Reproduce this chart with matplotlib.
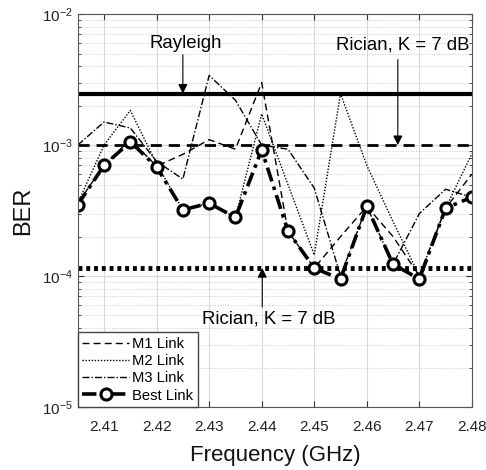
import numpy as np
import matplotlib.pyplot as plt
import matplotlib.ticker as tck

plt.rcParams['font.family'] = ['Liberation Sans', 'DejaVu Sans']

## Data
freq = [2.405, 2.41, 2.415, 2.42, 2.425, 2.43, 2.435, 2.44,
        2.445, 2.45, 2.455, 2.46, 2.465, 2.47, 2.475, 2.48]
ber_m1 = [3.6e-4, 7.0e-4, 1.1e-3, 6.9e-4, 8.5e-4, 1.1e-3, 9.3e-4, 3.0e-3,
          2.2e-4, 1.15e-4, 2.0e-4, 3.4e-4, 2.0e-4, 1.0e-4, 3.3e-4, 6.0e-4]
ber_m2 = [3.6e-4, 1.0e-3, 1.84e-3, 7.2e-4, 3.2e-4, 3.6e-4, 2.8e-4, 1.73e-3,
          5.0e-4, 1.45e-4, 2.47e-3, 7.0e-4, 2.6e-4, 1.0e-4, 3.3e-4, 8.6e-4]
ber_m3 = [1.0e-3, 1.5e-3, 1.35e-3, 7.5e-4, 5.5e-4, 3.4e-3, 2.2e-3, 1.0e-3,
          9.3e-4, 4.7e-4, 1.0e-4, 3.4e-4, 1.23e-4, 3.0e-4, 4.6e-4, 4.0e-4]
ber_best = [3.5e-4, 7.0e-4, 1.06e-3, 6.8e-4, 3.2e-4, 3.6e-4, 2.8e-4, 9.2e-4,
            2.2e-4, 1.15e-4, 0.95e-4, 3.4e-4, 1.23e-4, 0.95e-4, 3.3e-4, 4.0e-4]
ber_rayleigh = 2.47e-3
ber_rician_upper = 1.0e-3
ber_rician_lower = 1.15e-4

xticks = [2.41, 2.42, 2.43, 2.44, 2.45, 2.46, 2.47, 2.48]

fig = plt.figure(figsize=(4.86, 4.70), dpi=100)
ax = fig.add_axes([0.160, 0.134, 0.811, 0.836])

# reference levels
ax.axhline(ber_rayleigh, color='black', lw=3.0, ls='-')
ax.axhline(ber_rician_upper, color='black', lw=2.0, ls=(0, (4, 2.5)))
ax.axhline(ber_rician_lower, color='black', lw=3.5, ls=(0, (0.8, 0.8)))

# measured links
ax.plot(freq, ber_m1, color='black', lw=1.0, ls=(0, (5, 3)), label='M1 Link')
ax.plot(freq, ber_m2, color='black', lw=1.0, ls=(0, (1, 1.2)), label='M2 Link')
ax.plot(freq, ber_m3, color='black', lw=1.0, ls=(0, (5, 1.5, 1, 1.5)), label='M3 Link')
ax.plot(freq, ber_best, color='black', lw=2.6, ls=(0, (4, 1.5, 1, 1.5)),
        marker='o', ms=8, mfc='white', mec='black', mew=2.2, label='Best Link')

ax.set_yscale('log')
ax.set_ylim(1e-5, 1e-2)
ax.set_xlim(2.405, 2.48)
ax.set_xticks(xticks)
ax.set_xticklabels(['%.2f' % x for x in xticks])
ax.yaxis.set_major_locator(tck.LogLocator(base=10, numticks=10))
ax.yaxis.set_minor_locator(tck.LogLocator(base=10, subs=np.arange(2, 10), numticks=10))
ax.yaxis.set_minor_formatter(tck.NullFormatter())

ax.grid(True, which='major', color='#d8d8d8', lw=0.8, ls='-')
ax.grid(True, which='minor', axis='y', color='#c8c8c8', lw=0.7, ls=':')
ax.set_axisbelow(True)

ax.tick_params(which='both', direction='in', top=True, right=True,
               colors='#333333', labelcolor='#222222', labelsize=11)
ax.tick_params(which='major', length=4)
ax.tick_params(which='minor', length=2.5)
ax.tick_params(axis='x', pad=9)
for s in ax.spines.values():
    s.set_color('#555555')
    s.set_linewidth(0.8)

ax.set_xlabel('Frequency (GHz)', fontsize=16, color='#111111', labelpad=8)
ax.set_ylabel('BER', fontsize=17, color='#111111', labelpad=6)

## Annotations
arrow = dict(arrowstyle='-|>', color='black', lw=0.8, mutation_scale=14,
             shrinkA=0, shrinkB=0)
ax.text(2.4255, 6.0e-3, 'Rayleigh', ha='center', va='center', fontsize=13.4)
ax.annotate('', xy=(2.425, ber_rayleigh), xytext=(2.425, 4.9e-3), arrowprops=arrow)

ax.text(2.4795, 5.8e-3, 'Rician, K = 7 dB', ha='right', va='center', fontsize=13.4)
ax.annotate('', xy=(2.4659, ber_rician_upper), xytext=(2.4659, 4.5e-3), arrowprops=arrow)

ax.text(2.4413, 4.7e-5, 'Rician, K = 7 dB', ha='center', va='center', fontsize=13.4)
ax.annotate('', xy=(2.4401, ber_rician_lower), xytext=(2.4401, 5.8e-5), arrowprops=arrow)

leg = ax.legend(loc='lower left', fontsize=10.6, handlelength=3.2, handletextpad=0.2,
                borderpad=0.3, labelspacing=0.22, borderaxespad=0.0,
                fancybox=False, framealpha=1.0, edgecolor='#444444')
leg.get_frame().set_linewidth(1.0)

fig.savefig('out.png', dpi=100)
